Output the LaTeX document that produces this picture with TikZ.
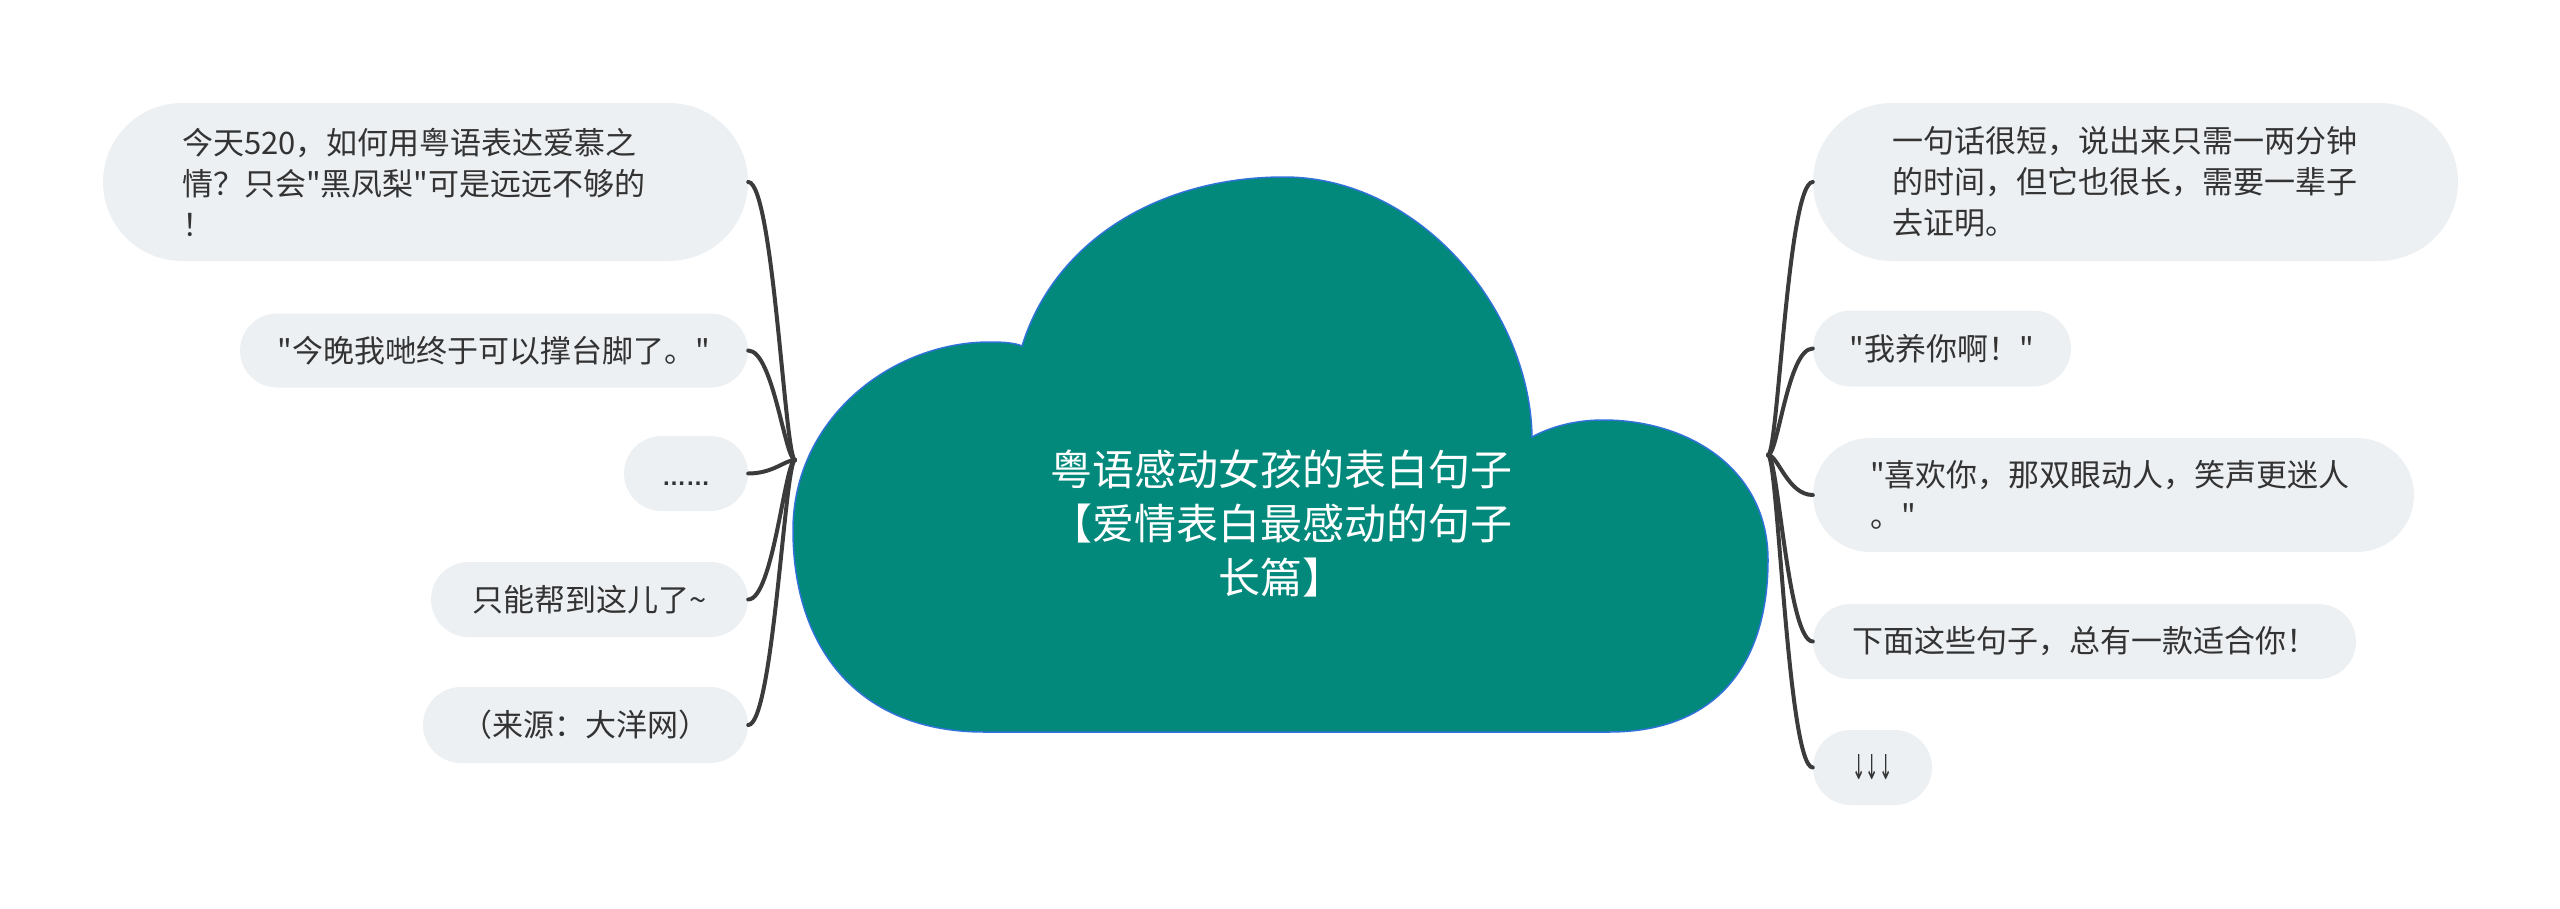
\documentclass[tikz,border=0pt]{standalone}
\usepackage{fontspec}
\setmainfont{Noto Sans CJK SC}[Ligatures=TeXOff]
\newfontfamily\latino{Liberation Sans}[Ligatures=TeXOff]
\newfontfamily\frecce{DejaVu Sans}
\usetikzlibrary{shapes.misc}

\definecolor{verdenuvola}{HTML}{02897B}
\definecolor{bordonuvola}{HTML}{2F72D8}
\definecolor{grigiopillola}{HTML}{EDF0F3}
\definecolor{testoscuro}{HTML}{333333}
\definecolor{ramoscuro}{HTML}{3B3B3B}

\begin{document}
\begin{tikzpicture}[x=1pt, y=-1pt,
    pillola/.style={rounded rectangle, fill=grigiopillola, text=testoscuro,
        inner sep=0pt, font=\fontsize{31}{41}\selectfont},
    titolo/.style={text=white, align=center, font=\fontsize{42}{54}\selectfont},
    ramo/.style={draw=ramoscuro, line width=4pt, line cap=round}]

    \useasboundingbox (0,0) rectangle (2560,908);

    % -- Nuvola centrale --
    \draw[fill=verdenuvola, draw=bordonuvola, line width=1.5pt]
        (1022,346) .. controls (1055,240) and (1160,177) .. (1284,177)
                   .. controls (1420,177) and (1530,310) .. (1532,437)
                   .. controls (1550,427) and (1575,420) .. (1603,420)
                   .. controls (1690,420) and (1768,470) .. (1768,560)
                   .. controls (1768,660) and (1720,732) .. (1609,732)
                   -- (984,732)
                   .. controls (860,732) and (793,650) .. (793,530)
                   .. controls (793,420) and (890,342) .. (990,342)
                   .. controls (1005,342) and (1015,343) .. (1022,346) -- cycle;

    \node[titolo] (titolo) at (1281,523) {粤语感动女孩的表白句子\\【爱情表白最感动的句子\\长篇】};

    % punti di raccordo dei rami
    \coordinate (hubsx) at (795,460);
    \coordinate (hubdx) at (1768,455);

    % -- Parte Sinistra --
    \node[pillola, minimum width=645pt, minimum height=158pt, text width=487pt, align=left]
        (sx1) at (425.5,182) {今天520，如何用粤语表达爱慕之\\情？只会"黑凤梨"可是远远不够的\\！};
    \node[pillola, minimum width=508pt, minimum height=74pt] (sx2) at (494,350.5) {"今晚我哋终于可以撑台脚了。"};
    \node[pillola, minimum width=124pt, minimum height=75pt] (sx3) at (686,473.5)
        {\vphantom{今}{\latino\bfseries\fontsize{24}{30}\selectfont ……}};
    \node[pillola, minimum width=317pt, minimum height=75pt] (sx4) at (589.5,599.5) {只能帮到这儿了\textasciitilde};
    \node[pillola, minimum width=325pt, minimum height=76pt] (sx5) at (585.5,725) {（来源：大洋网）};

    % -- Parte Destra --
    \node[pillola, minimum width=645pt, minimum height=158pt, text width=487pt, align=left]
        (dx1) at (2135.5,182) {一句话很短，说出来只需一两分钟\\的时间，但它也很长，需要一辈子\\去证明。};
    \node[pillola, minimum width=258pt, minimum height=76pt] (dx2) at (1942,348.5) {"我养你啊！"};
    \node[pillola, minimum width=601pt, minimum height=114pt, text width=487pt, align=left]
        (dx3) at (2113.5,495) {"喜欢你，那双眼动人，笑声更迷人\\。"};
    \node[pillola, minimum width=543pt, minimum height=75pt] (dx4) at (2084.5,641.5) {下面这些句子，总有一款适合你！};
    \node[pillola, minimum width=119pt, minimum height=75pt] (dx5) at (1872.5,767.5) {\resizebox{40pt}{25pt}{\frecce ↓↓↓}};

    % rami verso la nuvola
    \foreach \i in {1,...,5} {
        \draw[ramo] (sx\i.east) .. controls +(25,0) and +(-10,0) .. (hubsx);
        \draw[ramo] (dx\i.west) .. controls +(-25,0) and +(10,0) .. (hubdx);
    }
\end{tikzpicture}
\end{document}
